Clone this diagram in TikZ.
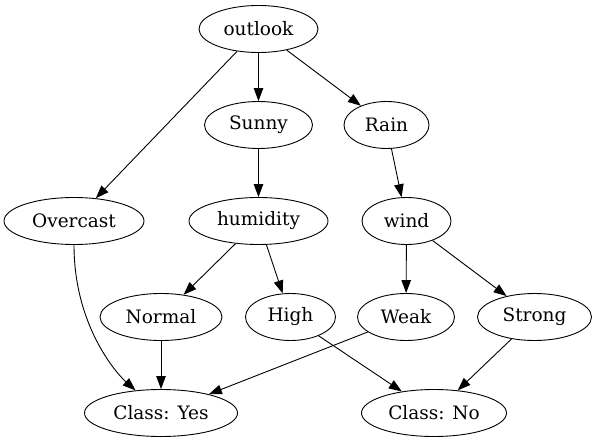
\documentclass[tikz,border=0pt]{standalone}
\usepackage{fontspec}
\setmainfont{DejaVu Serif}
\usepackage{tikz}
\usetikzlibrary{arrows.meta,shapes.geometric}

\begin{document}
\begin{tikzpicture}[
    x=1pt, y=-1pt,
    >={Triangle[length=13pt,width=9.5pt]},
    state/.style={draw, ellipse, line width=0.9pt, inner sep=0pt,
                  minimum height=47pt, font=\fontsize{18.5}{22}\selectfont},
    edge/.style={->, line width=0.9pt},
]
\useasboundingbox (0,0) rectangle (596,443);

% root
\node[state, minimum width=119pt] (outlook) at (258.5,29) {outlook};

% first split
\node[state, minimum width=108pt] (sunny) at (258.5,125) {Sunny};
\node[state, minimum width=85pt] (rain) at (386.5,125) {Rain};

% attributes
\node[state, minimum width=140pt] (overcast) at (74,221) {Overcast};
\node[state, minimum width=139pt] (humidity) at (258.5,221) {humidity};
\node[state, minimum width=89pt] (wind) at (406.5,221) {wind};

% values
\node[state, minimum width=122pt] (normal) at (161,317) {Normal};
\node[state, minimum width=90pt] (high) at (290.5,317) {High};
\node[state, minimum width=97pt] (weak) at (406,317) {Weak};
\node[state, minimum width=114pt] (strong) at (534.5,317) {Strong};

% classes
\node[state, minimum width=153pt] (yes) at (161,413) {Class: Yes};
\node[state, minimum width=145pt] (no) at (434,413) {Class: No};

% edges
\draw[edge] (outlook) -- (sunny);
\draw[edge] (outlook) -- (rain);
\draw[edge] (outlook) -- (overcast);
\draw[edge] (sunny) -- (humidity);
\draw[edge] (rain) -- (wind);
\draw[edge] (humidity) -- (normal);
\draw[edge] (humidity) -- (high);
\draw[edge] (wind) -- (weak);
\draw[edge] (wind) -- (strong);
\draw[edge] (overcast.south) .. controls +(0,80) and +(-45,-40) .. (yes);
\draw[edge] (normal) -- (yes);
\draw[edge] (weak) -- (yes);
\draw[edge] (high) -- (no);
\draw[edge] (strong) -- (no);

\end{tikzpicture}
\end{document}
